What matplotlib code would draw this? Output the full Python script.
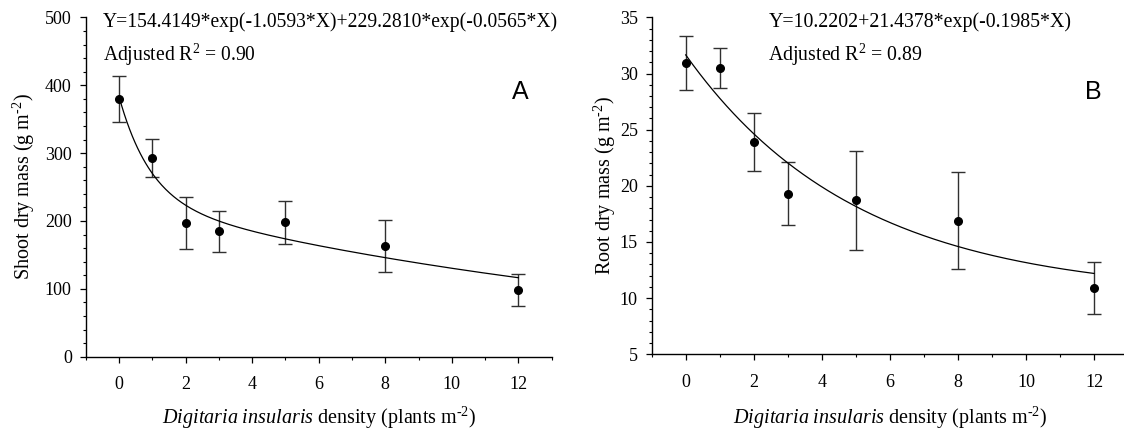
import matplotlib

matplotlib.use("Agg")
import matplotlib.pyplot as plt
import numpy as np
from matplotlib.ticker import MultipleLocator

plt.rcParams["font.family"] = ["Liberation Serif", "DejaVu Serif"]
plt.rcParams["mathtext.fontset"] = "custom"
plt.rcParams["mathtext.rm"] = "Liberation Serif"
plt.rcParams["mathtext.it"] = "Liberation Serif:italic"

# plant density (plants m-2)
density = [0, 1, 2, 3, 5, 8, 12]

# shoot dry mass (g m-2), mean and error
shoot_mean = [380, 293, 197, 185, 198, 163, 98]
shoot_err = [34, 28, 38, 30, 32, 38, 24]

# root dry mass (g m-2), mean and error
root_mean = [30.9, 30.5, 23.9, 19.3, 18.7, 16.9, 10.9]
root_err = [2.4, 1.8, 2.6, 2.8, 4.4, 4.3, 2.3]

# fitted models
shoot_fit = dict(a=154.4149, b=-1.0593, c=229.2810, d=-0.0565)
root_fit = dict(y0=10.2202, a=21.4378, b=-0.1985)

XLABEL = r"$\mathit{Digitaria\ insularis}$ density (plants m$^{\text{-}2}$)"
TXT = 14.1
LBL = 14.5


def style_axes(ax, ylim, ymajor, yminor):
    ax.set_xlim(-1, 13)
    ax.set_ylim(*ylim)
    ax.xaxis.set_major_locator(MultipleLocator(2))
    ax.xaxis.set_minor_locator(MultipleLocator(1))
    ax.yaxis.set_major_locator(MultipleLocator(ymajor))
    ax.yaxis.set_minor_locator(MultipleLocator(yminor))
    for s in ("top", "right"):
        ax.spines[s].set_visible(False)
    for s in ("left", "bottom"):
        ax.spines[s].set_linewidth(1.0)
    ax.tick_params(which="major", direction="out", length=4, width=0.9, labelsize=13, pad=6)
    ax.tick_params(which="minor", direction="out", length=2.5, width=0.8)
    ax.tick_params(axis="x", pad=10)


def points(ax, mean, err):
    ax.errorbar(density, mean, yerr=err, fmt="none", ecolor="#303030",
                elinewidth=1.0, capsize=5, capthick=1.0, zorder=2)
    ax.plot(density, mean, "o", color="black", ms=5.5, zorder=3)


fig = plt.figure(figsize=(11.24, 4.34), dpi=100)
axA = fig.add_axes([0.0762, 0.1781, 0.4146, 0.7819])
axB = fig.add_axes([0.5798, 0.1836, 0.4238, 0.7764])

xs = np.linspace(0, 12, 300)

# --- A: shoot ---
points(axA, shoot_mean, shoot_err)
f = shoot_fit
axA.plot(xs, f["a"] * np.exp(f["b"] * xs) + f["c"] * np.exp(f["d"] * xs), color="black", lw=0.9)
style_axes(axA, (0, 500), 100, 20)
axA.set_ylabel(r"Shoot dry mass (g m$^{\text{-}2}$)", fontsize=LBL)
axA.yaxis.set_label_coords(-0.105, 0.5)
axA.set_xlabel(XLABEL, fontsize=LBL)
axA.xaxis.set_label_coords(0.5, -0.142)
axA.text(0.0378, 0.987, "Y=154.4149*exp(-1.0593*X)+229.2810*exp(-0.0565*X)",
         transform=axA.transAxes, fontsize=TXT, va="center", ha="left")
axA.text(0.0378, 0.889, r"Adjusted R$^2$ = 0.90",
         transform=axA.transAxes, fontsize=TXT, va="center", ha="left")
axA.text(0.932, 0.78, "A", transform=axA.transAxes, fontsize=18, family="Liberation Sans",
         va="center", ha="center")

# --- B: root ---
points(axB, root_mean, root_err)
f = root_fit
axB.plot(xs, f["y0"] + f["a"] * np.exp(f["b"] * xs), color="black", lw=0.9)
style_axes(axB, (5, 35), 5, 1)
axB.set_ylabel(r"Root dry mass (g m$^{\text{-}2}$)", fontsize=LBL)
axB.yaxis.set_label_coords(-0.07, 0.5)
axB.set_xlabel(XLABEL, fontsize=LBL)
axB.xaxis.set_label_coords(0.5, -0.150)
axB.text(0.2448, 0.987, "Y=10.2202+21.4378*exp(-0.1985*X)",
         transform=axB.transAxes, fontsize=14.3, va="center", ha="left")
axB.text(0.2448, 0.888, r"Adjusted R$^2$ = 0.89",
         transform=axB.transAxes, fontsize=14.3, va="center", ha="left")
axB.text(0.9265, 0.778, "B", transform=axB.transAxes, fontsize=18, family="Liberation Sans",
         va="center", ha="center")

fig.savefig("out.png", dpi=100)
